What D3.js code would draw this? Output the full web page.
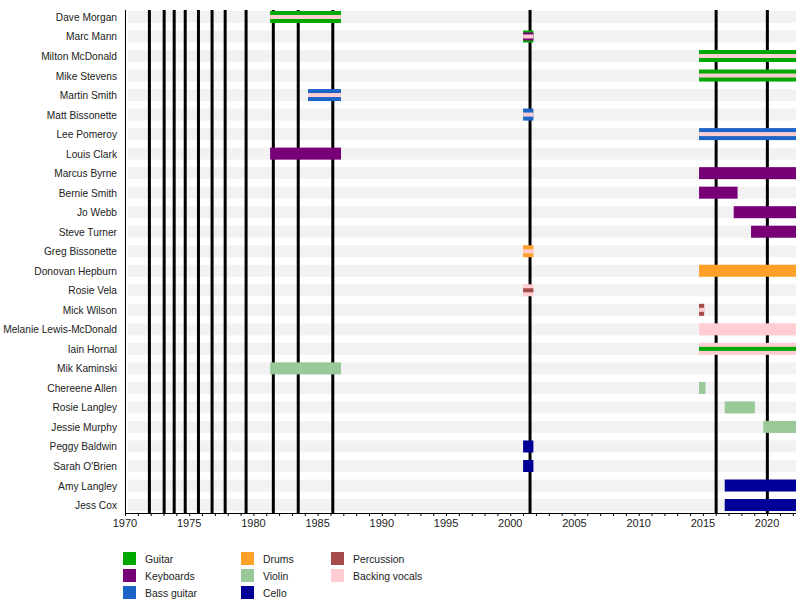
<!DOCTYPE html>
<html>
<head>
<meta charset="utf-8">
<script src="https://cdn.jsdelivr.net/npm/d3@7"></script>
<style>
  body { margin: 0; background: #fff; }
  svg text { font-family: "Liberation Sans", Arial, sans-serif; font-size: 11px; fill: #222; }
  svg text.name { font-size: 10.2px; }
  svg text.leg { font-size: 10.4px; }
</style>
</head>
<body>
<svg id="chart" width="800" height="610"></svg>
<script>
var END = 2022.25;

var members = ["Dave Morgan", "Marc Mann", "Milton McDonald", "Mike Stevens", "Martin Smith",
  "Matt Bissonette", "Lee Pomeroy", "Louis Clark", "Marcus Byrne", "Bernie Smith", "Jo Webb",
  "Steve Turner", "Greg Bissonette", "Donovan Hepburn", "Rosie Vela", "Mick Wilson",
  "Melanie Lewis-McDonald", "Iain Hornal", "Mik Kaminski", "Chereene Allen", "Rosie Langley",
  "Jessie Murphy", "Peggy Baldwin", "Sarah O'Brien", "Amy Langley", "Jess Cox"];

var instruments = ["Guitar", "Keyboards", "Bass guitar", "Drums", "Violin", "Cello", "Percussion", "Backing vocals"];
var instColors = ["#00a800", "#770077", "#1c64c6", "#ffa028", "#99c999", "#000096", "#a54b4b", "#ffcdd2"];

// [member, instrument, from, to, layer]  layer 0 = full bar, 1 = middle, 2 = inner stripe
var periods = [
  ["Dave Morgan", "Guitar", 1981.3, 1986.82, 0],
  ["Dave Morgan", "Backing vocals", 1981.3, 1986.82, 2],
  ["Marc Mann", "Guitar", 2001.0, 2001.8, 0],
  ["Marc Mann", "Keyboards", 2001.0, 2001.8, 1],
  ["Marc Mann", "Backing vocals", 2001.0, 2001.8, 2],
  ["Milton McDonald", "Guitar", 2014.7, END, 0],
  ["Milton McDonald", "Backing vocals", 2014.7, END, 2],
  ["Mike Stevens", "Guitar", 2014.7, END, 0],
  ["Mike Stevens", "Backing vocals", 2014.7, END, 2],
  ["Martin Smith", "Bass guitar", 1984.25, 1986.82, 0],
  ["Martin Smith", "Backing vocals", 1984.25, 1986.82, 2],
  ["Matt Bissonette", "Bass guitar", 2001.0, 2001.8, 0],
  ["Matt Bissonette", "Backing vocals", 2001.0, 2001.8, 2],
  ["Lee Pomeroy", "Bass guitar", 2014.7, END, 0],
  ["Lee Pomeroy", "Backing vocals", 2014.7, END, 2],
  ["Louis Clark", "Keyboards", 1981.3, 1986.82, 0],
  ["Marcus Byrne", "Keyboards", 2014.7, END, 0],
  ["Bernie Smith", "Keyboards", 2014.7, 2017.7, 0],
  ["Jo Webb", "Keyboards", 2017.4, END, 0],
  ["Steve Turner", "Keyboards", 2018.75, END, 0],
  ["Greg Bissonette", "Drums", 2001.0, 2001.8, 0],
  ["Greg Bissonette", "Backing vocals", 2001.0, 2001.8, 2],
  ["Donovan Hepburn", "Drums", 2014.7, END, 0],
  ["Rosie Vela", "Backing vocals", 2001.0, 2001.8, 0],
  ["Rosie Vela", "Percussion", 2001.0, 2001.8, 2],
  ["Mick Wilson", "Percussion", 2014.7, 2015.1, 0],
  ["Mick Wilson", "Backing vocals", 2014.7, 2015.1, 2],
  ["Melanie Lewis-McDonald", "Backing vocals", 2014.7, END, 0],
  ["Iain Hornal", "Backing vocals", 2014.7, END, 0],
  ["Iain Hornal", "Guitar", 2014.7, END, 2],
  ["Mik Kaminski", "Violin", 1981.3, 1986.82, 0],
  ["Chereene Allen", "Violin", 2014.7, 2015.2, 0],
  ["Rosie Langley", "Violin", 2016.7, 2019.05, 0],
  ["Jessie Murphy", "Violin", 2019.7, END, 0],
  ["Peggy Baldwin", "Cello", 2001.0, 2001.8, 0],
  ["Sarah O'Brien", "Cello", 2001.0, 2001.8, 0],
  ["Amy Langley", "Cello", 2016.7, END, 0],
  ["Jess Cox", "Cello", 2016.7, END, 0]
];

// studio album releases
var albums = [1971.9, 1973.05, 1973.83, 1974.69, 1975.72, 1976.78, 1977.8, 1979.43,
  1981.55, 1983.49, 1986.18, 2001.54, 2016.03, 2020.02];

var tickYears = [1970, 1975, 1980, 1985, 1990, 1995, 2000, 2005, 2010, 2015, 2020];

var svg = d3.select("#chart"),
    plotLeft = 125, plotRight = 796, plotTop = 7.2, plotBottom = 514.8, axisY = 513;

var x = d3.scaleLinear().domain([1970, END]).range([plotLeft, plotRight]);
var y = d3.scalePoint().domain(members).range([plotTop, plotBottom]).padding(0.5);
var color = d3.scaleOrdinal().domain(instruments).range(instColors);
var layerH = [12, 8, 4];

// row stripes
svg.append("g").selectAll("rect")
  .data(members)
  .enter().append("rect")
    .attr("x", plotLeft + 3)
    .attr("y", function(d) { return y(d) - 6; })
    .attr("width", plotRight - plotLeft - 3)
    .attr("height", 12)
    .attr("fill", "#f2f2f2");

// album lines
svg.append("g").selectAll("line")
  .data(albums)
  .enter().append("line")
    .attr("x1", function(d) { return x(d); })
    .attr("x2", function(d) { return x(d); })
    .attr("y1", 10)
    .attr("y2", axisY)
    .attr("stroke", "#000")
    .attr("stroke-width", 3);

// bars
svg.append("g").selectAll("rect")
  .data(periods)
  .enter().append("rect")
    .attr("x", function(d) { return x(d[2]); })
    .attr("y", function(d) { return y(d[0]) - layerH[d[4]] / 2; })
    .attr("width", function(d) { return x(d[3]) - x(d[2]); })
    .attr("height", function(d) { return layerH[d[4]]; })
    .attr("fill", function(d) { return color(d[1]); });

// member names
svg.append("g").selectAll("text")
  .data(members)
  .enter().append("text")
    .attr("class", "name")
    .attr("x", 117)
    .attr("y", function(d) { return y(d) + 4; })
    .attr("text-anchor", "end")
    .text(function(d) { return d; });

// left border
svg.append("line")
  .attr("x1", plotLeft + 0.5).attr("x2", plotLeft + 0.5)
  .attr("y1", 10).attr("y2", axisY)
  .attr("stroke", "#000");

// x axis
var gx = svg.append("g")
    .attr("transform", "translate(0," + axisY + ")");
gx.call(d3.axisBottom(x).tickValues(d3.range(1970, 2023)).tickSize(3).tickFormat(""));
gx.call(function(g) { g.select(".domain").remove(); });
gx.append("line")
    .attr("x1", plotLeft).attr("x2", plotRight)
    .attr("y1", 0.5).attr("y2", 0.5)
    .attr("stroke", "#000");
gx.append("g").selectAll("text")
  .data(tickYears)
  .enter().append("text")
    .attr("x", function(d) { return x(d); })
    .attr("y", 14)
    .attr("text-anchor", "middle")
    .text(function(d) { return d; });
gx.selectAll(".tick line").attr("stroke", "#000");

// legend
var legend = svg.append("g").selectAll("g")
  .data(instruments)
  .enter().append("g")
    .attr("transform", function(d, i) {
      var col = Math.floor(i / 3), row = i % 3;
      var xs = [123, 241, 331];
      return "translate(" + xs[col] + "," + (552 + row * 17) + ")";
    });
legend.append("rect")
    .attr("width", 13)
    .attr("height", 13)
    .attr("fill", function(d) { return color(d); });
legend.append("text")
    .attr("class", "leg")
    .attr("x", 22)
    .attr("y", 11)
    .text(function(d) { return d; });
</script>
</body>
</html>
